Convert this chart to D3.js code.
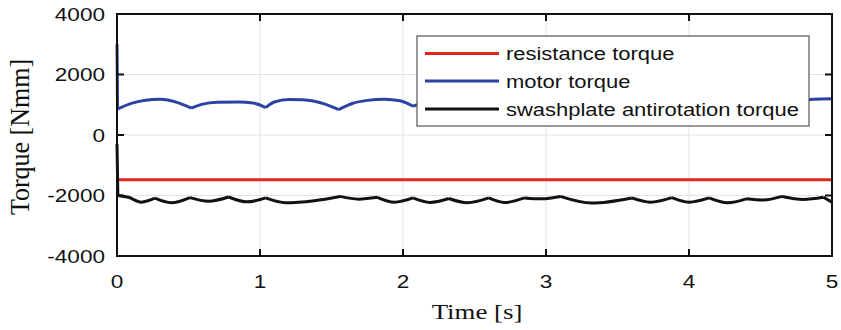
<!DOCTYPE html>
<html><head><meta charset="utf-8">
<script src="https://cdn.jsdelivr.net/npm/d3@7"></script>
<style>body{margin:0;background:#fff}svg{display:block}</style>
</head><body>
<svg id="chart" width="841" height="330"></svg>
<script>
// ---- data ----
const xTicks = [0, 1, 2, 3, 4, 5];
const yTicks = [-4000, -2000, 0, 2000, 4000];
const seriesNames = ["resistance torque", "motor torque", "swashplate antirotation torque"];

const resistanceT = [0, 5];
const resistanceV = [-1480, -1480];

const motorT = [0, 0.004, 0.1, 0.2, 0.3, 0.42, 0.52, 0.6, 0.7, 0.85, 0.95, 1.04, 1.1, 1.2, 1.3, 1.45, 1.55, 1.65, 1.75, 1.87, 1.98, 2.07, 2.17, 2.3, 2.45, 2.59, 2.7, 2.85, 3.0, 3.11, 3.2, 3.3, 3.45, 3.62, 3.72, 3.85, 4.0, 4.14, 4.25, 4.4, 4.55, 4.66, 4.76, 4.87, 5.0];
const motorV = [3000, 860, 1045, 1150, 1185, 1080, 890, 1020, 1080, 1095, 1060, 905, 1090, 1175, 1165, 1030, 840, 1050, 1145, 1185, 1130, 950, 1110, 1180, 1100, 910, 1060, 1100, 1060, 900, 1080, 1170, 1120, 850, 1060, 1160, 1120, 930, 1100, 1170, 1090, 900, 1080, 1185, 1200];
const motorCusps = [0.004, 0.52, 1.04, 1.55, 2.07, 2.59, 3.11, 3.62, 4.14, 4.66];

const swashT = [0, 0.006, 0.08, 0.17, 0.265, 0.38, 0.51, 0.64, 0.78, 0.91, 1.04, 1.18, 1.38, 1.56, 1.69, 1.82, 1.94, 2.07, 2.19, 2.32, 2.45, 2.6, 2.71, 2.85, 2.97, 3.1, 3.32, 3.6, 3.73, 3.88, 4.0, 4.14, 4.27, 4.4, 4.52, 4.65, 4.8, 4.94, 5.0];
const swashV = [-300, -2000, -2060, -2220, -2090, -2240, -2070, -2190, -2050, -2210, -2080, -2240, -2170, -2030, -2120, -2060, -2220, -2080, -2230, -2100, -2240, -2080, -2230, -2080, -2110, -2030, -2250, -2080, -2220, -2070, -2220, -2080, -2240, -2110, -2150, -2030, -2130, -2060, -2220];
const swashCusps = [0.006, 0.265, 0.51, 0.78, 1.04, 1.56, 1.82, 2.07, 2.32, 2.6, 2.85, 3.1, 3.6, 3.88, 4.14, 4.4, 4.65, 4.94];

const colors = ["#e2261d", "#2d43a3", "#111111"];

// ---- layout ----
const svg = d3.select("#chart");
const L = 117, R = 832, T = 14, B = 256;
const x = d3.scaleLinear().domain([0, 5]).range([L, R]);
const y = d3.scaleLinear().domain([-4000, 4000]).range([B, T]);
const SX = 1.22;

// grid
const g = svg.append("g");
g.selectAll(".gx").data(xTicks.slice(1, -1)).join("line")
  .attr("x1", d => x(d)).attr("x2", d => x(d)).attr("y1", T).attr("y2", B)
  .attr("stroke", "#e2e2e2").attr("stroke-width", 1);
g.selectAll(".gy").data(yTicks.slice(1, -1)).join("line")
  .attr("x1", L).attr("x2", R).attr("y1", d => y(d)).attr("y2", d => y(d))
  .attr("stroke", "#e2e2e2").attr("stroke-width", 1);

// series
function segPath(ts, vs, cusps) {
  const pts = ts.map((t, i) => [t, vs[i]]);
  const segs = [];
  let cur = [pts[0]];
  for (let i = 1; i < pts.length; i++) {
    cur.push(pts[i]);
    if (cusps.includes(pts[i][0])) { segs.push(cur); cur = [pts[i]]; }
  }
  if (cur.length > 1) segs.push(cur);
  const line = d3.line().x(d => x(d[0])).y(d => y(d[1])).curve(d3.curveMonotoneX);
  return segs.map(s => line(s)).join("");
}
const plot = svg.append("g");
plot.append("path").attr("d", segPath(resistanceT, resistanceV, []))
  .attr("fill", "none").attr("stroke", colors[0]).attr("stroke-width", 3);
plot.append("path").attr("d", segPath(motorT, motorV, motorCusps))
  .attr("fill", "none").attr("stroke", colors[1]).attr("stroke-width", 3).attr("stroke-linejoin", "round");
plot.append("path").attr("d", segPath(swashT, swashV, swashCusps))
  .attr("fill", "none").attr("stroke", colors[2]).attr("stroke-width", 3).attr("stroke-linejoin", "round");

// axes box and ticks
const ax = svg.append("g").attr("stroke", "#111").attr("stroke-width", 2);
ax.append("rect").attr("x", L).attr("y", T).attr("width", R - L).attr("height", B - T).attr("fill", "none");
const tl = 7;
xTicks.forEach(d => {
  ax.append("line").attr("x1", x(d)).attr("x2", x(d)).attr("y1", B).attr("y2", B - tl);
  ax.append("line").attr("x1", x(d)).attr("x2", x(d)).attr("y1", T).attr("y2", T + tl);
});
yTicks.forEach(d => {
  ax.append("line").attr("x1", L).attr("x2", L + tl).attr("y1", y(d)).attr("y2", y(d));
  ax.append("line").attr("x1", R).attr("x2", R - tl).attr("y1", y(d)).attr("y2", y(d));
});

function stext(px, py, str, opts) {
  return svg.append("text")
    .attr("transform", `translate(${px},${py}) ${opts.rot ? "rotate(-90)" : ""} scale(${opts.sx || 1},${opts.sy || 1})`)
    .attr("text-anchor", opts.anchor || "start")
    .attr("font-family", opts.family || "'Liberation Sans', Arial, sans-serif")
    .attr("font-size", opts.size)
    .attr("fill", "#111")
    .text(str);
}
// tick labels
xTicks.forEach(d => stext(x(d), 288, String(d), {anchor: "middle", size: 18.5, sx: SX}));
yTicks.forEach(d => stext(105, y(d) + 6.5, String(d), {anchor: "end", size: 18.5, sx: SX}));

// axis titles
stext(477, 319, "Time [s]", {anchor: "middle", size: 22, sx: SX, family: "'Liberation Serif', 'Times New Roman', serif"});
stext(29, 137, "Torque [Nmm]", {anchor: "middle", size: 26, sy: 1.05, rot: true, family: "'Liberation Serif', 'Times New Roman', serif"});

// legend
const lg = svg.append("g");
lg.append("rect").attr("x", 417).attr("y", 36).attr("width", 392).attr("height", 90)
  .attr("fill", "#fff").attr("stroke", "#555").attr("stroke-width", 1.2);
const rowY = [53.5, 81, 109];
seriesNames.forEach((n, i) => {
  lg.append("line").attr("x1", 425).attr("x2", 499).attr("y1", rowY[i]).attr("y2", rowY[i])
    .attr("stroke", colors[i]).attr("stroke-width", 3);
  stext(506, rowY[i] + 6.5, n, {size: 18.3, sx: 1.2});
});
</script>
</body></html>
